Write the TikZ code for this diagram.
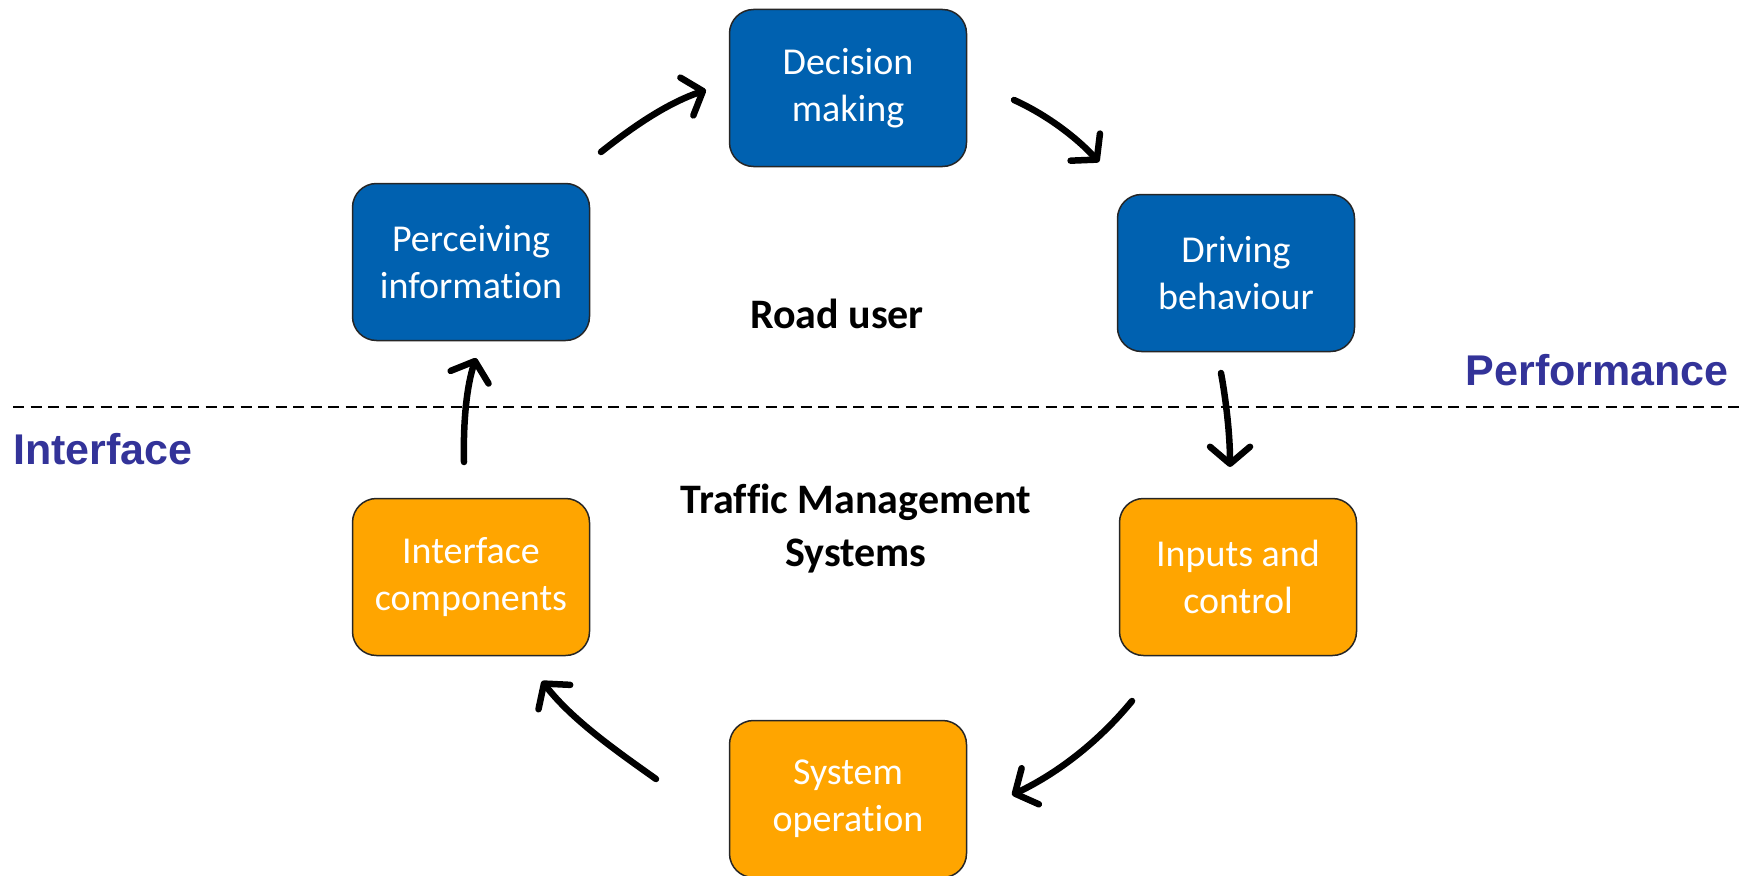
\documentclass[tikz,border=0pt]{standalone}
\usepackage{fontspec}
\setmainfont[Ligatures=NoCommon]{Carlito}
\newfontfamily\arialb{Liberation Sans}
\usetikzlibrary{arrows.meta}
\definecolor{boxblue}{RGB}{0,97,176}
\definecolor{boxorange}{RGB}{255,165,0}
\definecolor{labelblue}{RGB}{51,51,153}
\begin{document}
\begin{tikzpicture}[x=1pt,y=-1pt,
  stepbox/.style={draw=black!85, line width=1.5pt, rounded corners=24pt,
    minimum width=237pt, minimum height=157pt, text=white, align=center,
    font=\fontsize{38}{47}\selectfont, inner sep=0pt},
  bluebox/.style={stepbox, fill=boxblue},
  orangebox/.style={stepbox, fill=boxorange},
  flow/.style={line width=6.5pt, line cap=round,
    -{Straight Barb[length=17pt,width=40pt,line width=6.5pt,round]}},
  centerlabel/.style={font=\fontsize{42}{53}\selectfont\bfseries, align=center},
  sidelabel/.style={font=\fontsize{43}{50}\selectfont\arialb\bfseries, text=labelblue, inner sep=0pt},
  divider/.style={line width=1.5pt, dash pattern=on 11pt off 6.5pt}]
\useasboundingbox (0,0) rectangle (1744,875);

% dashed divider
\coordinate (dl) at (13,407);
\coordinate (dr) at (1740,407);
\draw[divider] (dl) -- (dr);

% boxes
\node[bluebox] (dec) at (848,88) {Decision\\making};
\node[bluebox] (perc) at (471,262) {Perceiving\\information};
\node[bluebox] (drive) at (1236,273) {Driving\\behaviour};
\node[orangebox] (iface) at (471,577) {Interface\\components};
\node[orangebox] (inputs) at (1238,577) {Inputs and\\control};
\node[orangebox] (sysop) at (848,799) {System\\operation};

% labels
\node[centerlabel] (road) at (837,314) {Road user};
\node[centerlabel] (tms) at (856,529) {Traffic Management\\Systems};
\node[sidelabel, anchor=east] (perf) at (1729,370) {Performance};
\node[sidelabel, anchor=west] (intf) at (13,449) {Interface};

% arrow end points
\coordinate (a1s) at (601,152);
\coordinate (a1e) at (706,90);
\coordinate (a2s) at (1014,100);
\coordinate (a2e) at (1099,162);
\coordinate (a3s) at (1221,373);
\coordinate (a3e) at (1230,467);
\coordinate (a4s) at (1132,701);
\coordinate (a4e) at (1012,795);
\coordinate (a5s) at (656,779);
\coordinate (a5e) at (542,681);
\coordinate (a6s) at (464,462);
\coordinate (a6e) at (476,358);

\draw[flow] (a1s) .. controls (635,125) and (668,103) .. (a1e);
\draw[flow] (a2s) .. controls (1045,114) and (1075,136) .. (a2e);
\draw[flow] (a3s) .. controls (1226,400) and (1230,435) .. (a3e);
\draw[flow] (a4s) .. controls (1100,740) and (1060,772) .. (a4e);
\draw[flow] (a5s) .. controls (618,752) and (572,720) .. (a5e);
\draw[flow] (a6s) .. controls (463,420) and (467,385) .. (a6e);
\end{tikzpicture}
\end{document}
